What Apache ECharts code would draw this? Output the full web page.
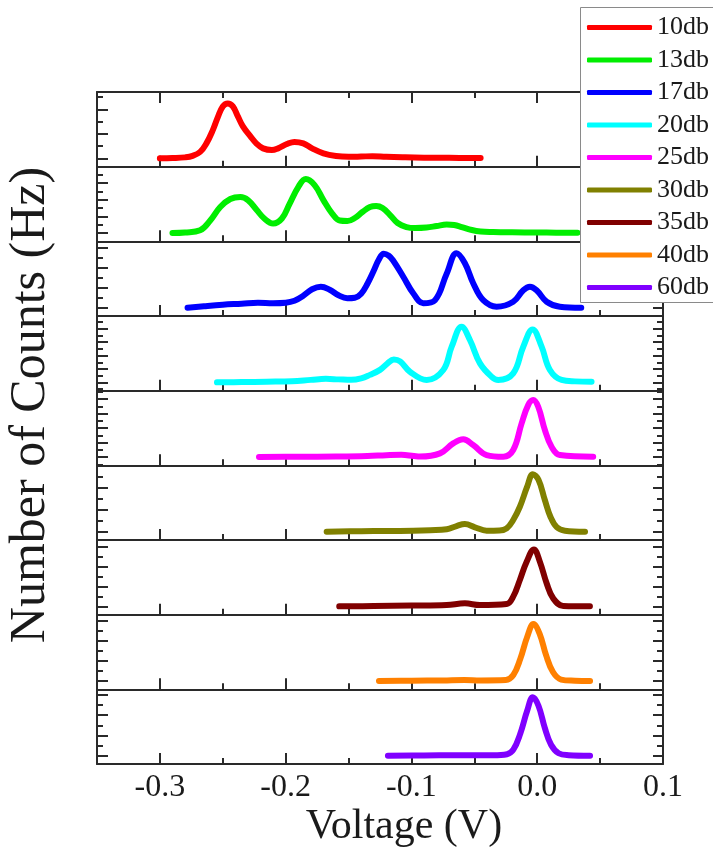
<!DOCTYPE html>
<html>
<head>
<meta charset="utf-8">
<title>Pulse height spectra vs attenuation</title>
<script src="https://cdn.jsdelivr.net/npm/echarts@6/dist/echarts.min.js"></script>
<style>
  html, body { margin: 0; padding: 0; background: #ffffff; }
  #chart { width: 713px; height: 849px; }
</style>
</head>
<body>
<div id="chart"></div>
<script>
// Attenuation settings, one stacked panel each (top to bottom)
const seriesNames = ['10db', '13db', '17db', '20db', '25db', '30db', '35db', '40db', '60db'];
const seriesColors = ['#ff0000', '#00ee00', '#0000ff', '#00ffff', '#ff00ff', '#808000', '#800000', '#ff8000', '#8000ff'];

// Counts per panel as [voltage (V), counts] pairs
const counts10db = [[-0.300,0],[-0.290,0.3],[-0.280,1],[-0.274,2.5],[-0.268,6.5],[-0.263,15],[-0.258,28],[-0.254,41],[-0.250,52],[-0.246,55],[-0.242,52],[-0.238,42],[-0.234,32],[-0.228,22],[-0.223,14.5],[-0.218,10],[-0.211,8.3],[-0.206,10],[-0.199,14.3],[-0.193,16.5],[-0.186,15],[-0.179,10],[-0.170,5],[-0.160,2.3],[-0.150,1.5],[-0.140,1.8],[-0.131,2.2],[-0.120,1.5],[-0.105,1],[-0.090,0.7],[-0.070,0.5],[-0.045,0.3]];
const counts13db = [[-0.290,0],[-0.280,0.5],[-0.268,2.7],[-0.260,12.5],[-0.252,26],[-0.244,34],[-0.236,36],[-0.230,33],[-0.223,23],[-0.217,14.5],[-0.210,9.5],[-0.203,14.5],[-0.197,29],[-0.190,46],[-0.184,54],[-0.177,48],[-0.170,33],[-0.163,19.5],[-0.157,12.5],[-0.151,12],[-0.145,15],[-0.139,21],[-0.133,26],[-0.128,27],[-0.123,25],[-0.117,18],[-0.111,10],[-0.104,6],[-0.097,5],[-0.088,5.5],[-0.080,7],[-0.072,8.5],[-0.066,8],[-0.060,6],[-0.052,3],[-0.045,1.5],[-0.035,1],[-0.020,0.7],[0.000,0.5],[0.015,0.4],[0.032,0.3]];
const counts17db = [[-0.278,0],[-0.265,1.5],[-0.250,3],[-0.235,4],[-0.222,5],[-0.210,4.5],[-0.200,5],[-0.193,7],[-0.186,12],[-0.179,18.5],[-0.172,21],[-0.165,18],[-0.158,12.5],[-0.151,9.5],[-0.145,10],[-0.140,14],[-0.135,24],[-0.130,37],[-0.126,48],[-0.122,54],[-0.118,52],[-0.1147,47.5],[-0.1065,31],[-0.0986,14.5],[-0.0906,4.5],[-0.0813,7.5],[-0.072,34],[-0.0641,54.5],[-0.0575,44.5],[-0.0509,24.5],[-0.0429,7.5],[-0.0323,1],[-0.0191,6],[-0.0111,17.5],[-0.0058,21],[-0.0005,17.5],[0.0075,6],[0.018,1],[0.035,0]];
const counts20db = [[-0.2546,0],[-0.235,0.3],[-0.215,0.7],[-0.195,1.2],[-0.180,2.5],[-0.168,3.5],[-0.158,3],[-0.148,2.5],[-0.140,4],[-0.133,7.5],[-0.125,12.5],[-0.119,19],[-0.114,23],[-0.109,21],[-0.1012,10.7],[-0.0879,2.4],[-0.0747,12.4],[-0.068,35.7],[-0.0601,55.7],[-0.0535,42.4],[-0.0455,19],[-0.0363,5.7],[-0.031,2.4],[-0.0191,9],[-0.0111,35.7],[-0.0037,53],[0.0035,35.7],[0.0101,12.4],[0.0194,2.4],[0.030,1],[0.0432,0.7]];
const counts25db = [[-0.2212,0],[-0.190,0.3],[-0.160,0.5],[-0.135,1],[-0.120,1.8],[-0.108,2.2],[-0.098,1],[-0.0932,0.5],[-0.0773,3.7],[-0.0668,13.7],[-0.0588,17.7],[-0.0509,12],[-0.0402,2],[-0.027,0.3],[-0.0191,7],[-0.0124,33.7],[-0.0072,52],[-0.0032,57],[0.0008,50.3],[0.0061,27],[0.0114,10.3],[0.018,2],[0.0445,0.3]];
const counts30db = [[-0.1674,0],[-0.140,0.5],[-0.120,0.7],[-0.0986,1],[-0.085,1.5],[-0.072,2.4],[-0.0641,5.7],[-0.0575,7.7],[-0.0495,4.4],[-0.0402,1],[-0.030,1.2],[-0.0243,3.4],[-0.0191,11.7],[-0.0138,25],[-0.008,45],[-0.0035,57.5],[0.001,52],[0.006,32],[0.0105,15],[0.0155,4.5],[0.022,1],[0.038,0]];
const counts35db = [[-0.1574,0],[-0.130,0.3],[-0.100,0.8],[-0.072,1.4],[-0.0575,3],[-0.0455,1.4],[-0.0243,2.4],[-0.0191,9.7],[-0.0138,26.4],[-0.0084,44.7],[-0.0026,57],[0.0021,44.7],[0.0075,23],[0.0127,8],[0.0207,0.4],[0.0419,0]];
const counts40db = [[-0.1258,0],[-0.100,0.3],[-0.075,0.6],[-0.058,1],[-0.045,0.6],[-0.025,1],[-0.019,6],[-0.0135,22],[-0.008,44],[-0.003,57],[0.002,47],[0.007,26],[0.0125,9],[0.019,1.5],[0.030,0.3],[0.042,0]];
const counts60db = [[-0.1187,0],[-0.090,0.2],[-0.060,0.5],[-0.035,0.5],[-0.024,1.5],[-0.019,6],[-0.0135,22],[-0.008,45],[-0.0035,58.5],[0.001,50],[0.006,28],[0.011,11],[0.017,2.5],[0.025,0.5],[0.042,0]];

const panelCounts = [counts10db, counts13db, counts17db, counts20db, counts25db, counts30db, counts35db, counts40db, counts60db];

// Axis ticks
const voltageTicks = [-0.3, -0.2, -0.1, 0.0, 0.1];
const voltageMinorTicks = [-0.25, -0.15, -0.05, 0.05];
const countTickStep = [24.5, 16.7, 20, 13.4, 14.5, 22, 20, 20, 20.3];

// Layout
const VOLT_MIN = -0.35, VOLT_MAX = 0.1;
const COUNT_MIN = -8.3, COUNT_MAX = 66.4;
const PLOT_LEFT = 97, PLOT_WIDTH = 566, PLOT_TOP = 92, PANEL_H = 74.667;
const AXIS_COLOR = '#2a2a2a';
const SERIF = '"Liberation Serif", "Times New Roman", serif';

function countTicks(step, start) {
  const out = [];
  for (let v = start; v <= COUNT_MAX - 1; v += step) out.push(+v.toFixed(3));
  for (let v = start - step; v >= COUNT_MIN + 1; v -= step) out.push(+v.toFixed(3));
  return out;
}

const grids = [], xAxes = [], yAxes = [], series = [];
const axisLineStyle = { color: AXIS_COLOR, width: 2 };

function xAxisDef(gridIndex, position, ticks, tickLen, showLine, showLabels) {
  return {
    type: 'value', gridIndex, position, min: VOLT_MIN, max: VOLT_MAX,
    axisLine: { show: showLine, onZero: false, lineStyle: axisLineStyle },
    axisTick: { show: true, inside: true, length: tickLen, customValues: ticks, lineStyle: { color: AXIS_COLOR, width: 2 } },
    axisLabel: showLabels ? {
      show: true, customValues: voltageTicks, margin: 8, color: '#1a1a1a',
      fontFamily: SERIF, fontSize: 32, formatter: v => v.toFixed(1),
      showMinLabel: true, showMaxLabel: true, hideOverlap: false
    } : { show: false },
    splitLine: { show: false }
  };
}

function yAxisDef(gridIndex, position, ticks, tickLen, showLine) {
  return {
    type: 'value', gridIndex, position, min: COUNT_MIN, max: COUNT_MAX,
    axisLine: { show: showLine, onZero: false, lineStyle: axisLineStyle },
    axisTick: { show: true, inside: true, length: tickLen, customValues: ticks, lineStyle: { color: AXIS_COLOR, width: 2 } },
    axisLabel: { show: false },
    splitLine: { show: false }
  };
}

panelCounts.forEach((data, i) => {
  grids.push({ left: PLOT_LEFT, width: PLOT_WIDTH, top: PLOT_TOP + i * PANEL_H, height: PANEL_H, outerBoundsMode: 'none' });
  const last = i === panelCounts.length - 1;
  const xIndex = xAxes.length;
  xAxes.push(xAxisDef(i, 'bottom', voltageTicks, 11, true, last));
  xAxes.push(xAxisDef(i, 'bottom', voltageMinorTicks, 6, false, false));
  if (i === 0) {
    xAxes.push(xAxisDef(i, 'top', voltageTicks, 11, true, false));
    xAxes.push(xAxisDef(i, 'top', voltageMinorTicks, 6, false, false));
  }
  const step = countTickStep[i];
  const major = countTicks(step, 0);
  const minor = countTicks(step, step / 2);
  const yIndex = yAxes.length;
  yAxes.push(yAxisDef(i, 'left', major, 11, true));
  yAxes.push(yAxisDef(i, 'left', minor, 6, false));
  yAxes.push(yAxisDef(i, 'right', major, 10, true));
  yAxes.push(yAxisDef(i, 'right', minor, 6, false));
  series.push({
    name: seriesNames[i], type: 'line', xAxisIndex: xIndex, yAxisIndex: yIndex,
    data, showSymbol: false, symbol: 'none', smooth: 0.4,
    lineStyle: { width: 6, color: seriesColors[i], cap: 'round', join: 'round' },
    itemStyle: { color: seriesColors[i] },
    z: 3
  });
});

const chart = echarts.init(document.getElementById('chart'), null, { renderer: 'canvas' });
chart.setOption({
  animation: false,
  backgroundColor: '#ffffff',
  color: seriesColors,
  grid: grids,
  xAxis: xAxes,
  yAxis: yAxes,
  series,
  legend: {
    data: seriesNames, orient: 'vertical', left: 580, top: 7,
    icon: 'roundRect', itemWidth: 65, itemHeight: 5, itemGap: 6.5,
    selectedMode: false,
    textStyle: { fontFamily: SERIF, fontSize: 26, lineHeight: 25, color: '#1a1a1a' },
    backgroundColor: 'transparent', borderWidth: 0,
    padding: [7.5, 5, 0, 7], z: 10
  },
  graphic: [
    {
      // legend frame
      type: 'rect', z: 8, silent: true,
      shape: { x: 580.5, y: 7.5, width: 140, height: 295 },
      style: { fill: '#ffffff', stroke: '#8a8a8a', lineWidth: 1 }
    },
    {
      type: 'text', x: 31, y: 405, rotation: Math.PI / 2,
      style: { text: 'Number of Counts (Hz)', font: '50px ' + SERIF, fill: '#1a1a1a', textAlign: 'center', textVerticalAlign: 'middle' }
    },
    {
      type: 'text', x: 404, y: 827,
      style: { text: 'Voltage (V)', font: '42px ' + SERIF, fill: '#1a1a1a', textAlign: 'center', textVerticalAlign: 'middle' }
    }
  ]
});
</script>
</body>
</html>
